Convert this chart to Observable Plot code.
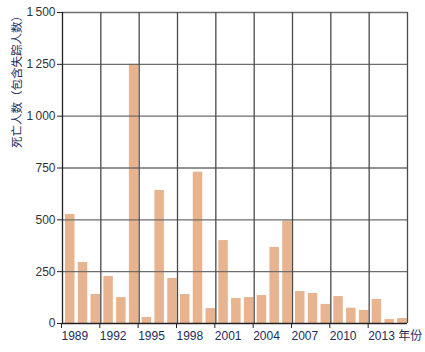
<!DOCTYPE html>
<html><head><meta charset="utf-8">
<script src="https://cdn.jsdelivr.net/npm/d3@7"></script>
<script src="https://cdn.jsdelivr.net/npm/@observablehq/plot@0.6"></script>
<style>body{margin:0;background:#fff}</style>
</head><body><div id="chart"></div>
<script>
const years = [1989,1990,1991,1992,1993,1994,1995,1996,1997,1998,1999,2000,2001,2002,2003,2004,2005,2006,2007,2008,2009,2010,2011,2012,2013,2014,2015];
const deaths = [526,294,140,227,125,1250,29,642,217,140,730,72,400,121,125,135,367,494,154,145,92,130,74,63,116,19,24];
const xTicks = [1989,1992,1995,1998,2001,2004,2007,2010,2013];
const xGrid = [1989,1992,1995,1998,2001,2004,2007,2010,2013,2016];
const yTicks = [0,250,500,750,1000,1250,1500];
const yTitle = "死亡人数（包含失踪人数）";
const xUnit = "年份";

const data = years.map((y,i)=>({year:y, v:deaths[i]}));
const fmtY = d => d >= 1000 ? `${Math.floor(d/1000)}\u2009${String(d%1000).padStart(3,"0")}` : String(d);
const font = "'Liberation Sans', 'Noto Sans CJK SC', sans-serif";

const chart = Plot.plot({
  width: 425, height: 352,
  marginLeft: 62, marginRight: 18, marginTop: 12, marginBottom: 29,
  style: {fontFamily: font, fontSize: "12px", background: "#fff"},
  x: {domain: [1989, 2016]},
  y: {domain: [0, 1500]},
  marks: [
    Plot.rectY(data, {x1: "year", x2: d => d.year + 1, y: "v", fill: "#e8b38f", insetLeft: 3, insetRight: 0.3}),
    Plot.ruleY(yTicks.slice(1), {stroke: "#6e6e6e", strokeWidth: 1.3}),
    Plot.ruleX(xGrid.slice(1), {stroke: "#4a4a4a", strokeWidth: 1.3}),
    Plot.ruleX([1989], {stroke: "#222", strokeWidth: 1.3}),
    Plot.ruleY([0], {stroke: "#222", strokeWidth: 1.3}),
    Plot.axisY({ticks: yTicks, tickFormat: fmtY, tickSize: 5, tickPadding: 2, fill: "#333", stroke: "#222", label: null, fontSize: 12}),
    Plot.axisX({ticks: xTicks, tickFormat: d => d === 2013 ? `${d} ${xUnit}` : String(d), tickSize: 5, tickPadding: 3, textAnchor: "start", dx: -1, fill: "#1e2c5c", stroke: "#222", label: null, fontSize: 12}),
    Plot.text([yTitle], {frameAnchor: "left", rotate: -90, dx: -45, dy: -20, fill: "#1e2c5c", fontSize: 11.5})
  ]
});
document.getElementById("chart").appendChild(chart);
</script>
</body></html>
